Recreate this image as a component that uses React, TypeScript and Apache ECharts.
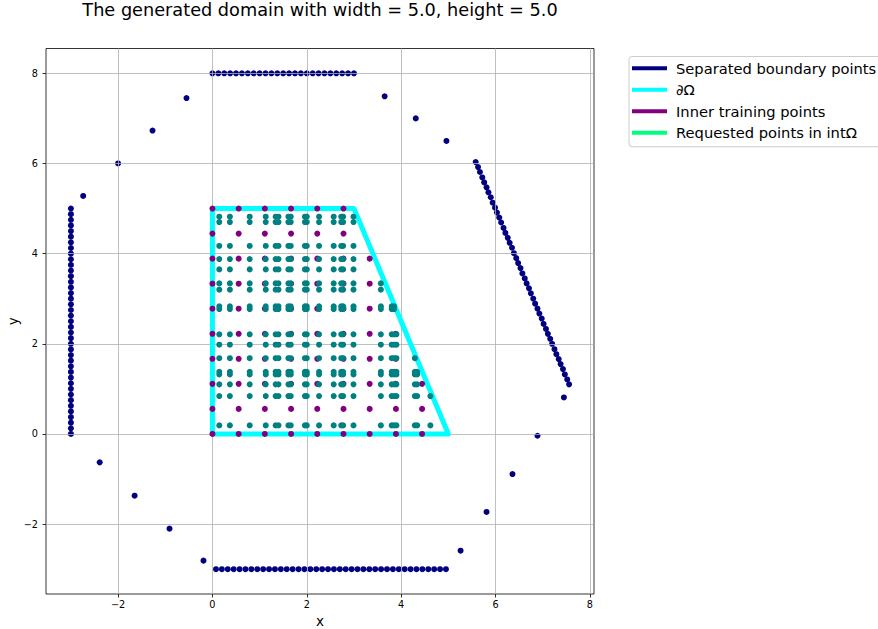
import React, { useEffect, useRef } from 'react';
import * as echarts from 'echarts';

const FONT = 'DejaVu Sans';

// Separated boundary points: left edge (x = -3)
const leftEdgeX = -3;
const leftEdgeY = [
  0, 0.125, 0.25, 0.375, 0.5, 0.625, 0.75, 0.875, 1, 1.125, 1.25, 1.375, 1.5, 1.625,
  1.75, 1.875, 2, 2.125, 2.25, 2.375, 2.5, 2.625, 2.75, 2.875, 3, 3.125, 3.25, 3.375,
  3.5, 3.625, 3.75, 3.875, 4, 4.125, 4.25, 4.375, 4.5, 4.625, 4.75, 4.875, 5,
];

// Separated boundary points: top edge (y = 8)
const topEdgeY = 8;
const topEdgeX = [
  0, 0.125, 0.25, 0.375, 0.5, 0.625, 0.75, 0.875, 1, 1.125, 1.25, 1.375, 1.5, 1.625,
  1.75, 1.875, 2, 2.125, 2.25, 2.375, 2.5, 2.625, 2.75, 2.875, 3,
];

// Separated boundary points: bottom edge (y = -3)
const bottomEdgeY = -3;
const bottomEdgeX = [
  0.075, 0.2, 0.325, 0.45, 0.575, 0.7, 0.825, 0.95, 1.075, 1.2, 1.325, 1.45, 1.575, 1.7,
  1.825, 1.95, 2.075, 2.2, 2.325, 2.45, 2.575, 2.7, 2.825, 2.95, 3.075, 3.2, 3.325, 3.45,
  3.575, 3.7, 3.825, 3.95, 4.075, 4.2, 4.325, 4.45, 4.575, 4.7, 4.825, 4.95,
];

// Separated boundary points: slanted right edge
const slantedEdgePoints: [number, number][] = [
  [5.58, 6.03], [5.63, 5.92], [5.67, 5.81], [5.72, 5.69], [5.76, 5.58], [5.81, 5.47],
  [5.85, 5.36], [5.9, 5.25], [5.94, 5.13], [5.99, 5.02], [6.03, 4.91], [6.08, 4.8],
  [6.12, 4.69], [6.17, 4.57], [6.21, 4.46], [6.26, 4.35], [6.3, 4.24], [6.35, 4.13],
  [6.39, 4.01], [6.44, 3.9], [6.48, 3.79], [6.53, 3.68], [6.57, 3.56], [6.62, 3.45],
  [6.66, 3.34], [6.71, 3.23], [6.75, 3.12], [6.8, 3.0], [6.84, 2.89], [6.89, 2.78],
  [6.93, 2.67], [6.98, 2.56], [7.02, 2.44], [7.07, 2.33], [7.11, 2.22], [7.16, 2.11],
  [7.2, 2.0], [7.25, 1.88], [7.29, 1.77], [7.34, 1.66], [7.38, 1.55], [7.43, 1.44],
  [7.47, 1.32], [7.52, 1.21], [7.56, 1.1],
];

// Separated boundary points around the four corners
const cornerPoints: [number, number][] = [
  [-2.74, 5.28], [-2.0, 6.0], [-1.27, 6.73], [-0.55, 7.45],
  [3.65, 7.49], [4.31, 7.0], [4.96, 6.5],
  [5.26, -2.59], [5.81, -1.73], [6.36, -0.89], [6.89, -0.04], [7.45, 0.81],
  [-2.39, -0.63], [-1.65, -1.37], [-0.91, -2.1], [-0.19, -2.81],
];

// Domain outline ∂Ω
const domainVertices: [number, number][] = [[0, 0], [5, 0], [3, 5], [0, 5], [0, 0]];

// Inner training points lie on this lattice inside Ω
const innerGridX = [0, 0.556, 1.111, 1.667, 2.222, 2.778, 3.333, 3.889, 4.444, 5];
const innerGridY = [0, 0.556, 1.111, 1.667, 2.222, 2.778, 3.333, 3.889, 4.444, 5];

// Requested points lie on this lattice inside Ω
const requestedX = [
  0.145, 0.37, 0.79, 1.13, 1.34, 1.4, 1.61, 1.66, 1.96, 2.0, 2.26, 2.57, 2.73, 2.77,
  2.99, 3.57, 3.8, 3.85, 3.9, 4.29, 4.34, 4.62,
];
const requestedY = [
  0.19, 0.84, 1.1, 1.32, 1.38, 1.68, 1.98, 2.21, 2.77, 2.83, 3.2, 3.34, 3.65, 3.88,
  4.17, 4.7, 4.82,
];

const xTicks = [-2, 0, 2, 4, 6, 8];
const yTicks = [-2, 0, 2, 4, 6, 8];
const xRange = [-3.528, 8.088];
const yRange = [-3.55, 8.55];

const seriesNames = [
  'Separated boundary points',
  '∂Ω',
  'Inner training points',
  'Requested points in intΩ',
];
const seriesColors = ['#000080', '#00ffff', '#800080', '#008080'];
const legendColors = ['#000080', '#00ffff', '#800080', '#00ff7f'];

// keep points strictly left of the slanted side of Ω
function insideDomain(x: number, y: number): boolean {
  const [x0, y0] = domainVertices[1];
  const [x1, y1] = domainVertices[2];
  const edgeX = x0 + ((x1 - x0) * (y - y0)) / (y1 - y0);
  return x >= 0 && y >= 0 && y <= y1 && x < edgeX - 1e-6;
}

function lattice(xs: number[], ys: number[]): [number, number][] {
  const out: [number, number][] = [];
  ys.forEach((y) => xs.forEach((x) => { if (insideDomain(x, y)) out.push([x, y]); }));
  return out;
}

const minus = (v: number) => String(v).replace('-', '\u2212');

export default function App() {
  const ref = useRef<HTMLDivElement>(null);

  useEffect(() => {
    if (!ref.current) return;
    const chart = echarts.init(ref.current, undefined, { renderer: 'svg' });

    const boundary: [number, number][] = [
      ...leftEdgeY.map((y) => [leftEdgeX, y] as [number, number]),
      ...topEdgeX.map((x) => [x, topEdgeY] as [number, number]),
      ...bottomEdgeX.map((x) => [x, bottomEdgeY] as [number, number]),
      ...slantedEdgePoints,
      ...cornerPoints,
    ];

    const gridLineStyle = { color: '#b0b0b0', width: 0.8, type: 'solid' as const };

    chart.setOption({
      animation: false,
      backgroundColor: '#ffffff',
      title: {
        text: 'The generated domain with width = 5.0, height = 5.0',
        left: 320,
        top: 1,
        textAlign: 'center',
        padding: 0,
        textStyle: { fontFamily: FONT, fontSize: 17.7, fontWeight: 'normal', color: '#000' },
      },
      grid: {
        left: 46,
        top: 48.5,
        width: 548,
        height: 545.5,
        outerBoundsMode: 'none',
        containLabel: false,
        show: true,
        borderColor: '#000',
        borderWidth: 0.8,
        backgroundColor: 'transparent',
      },
      legend: {
        orient: 'vertical',
        left: 629,
        top: 56.5,
        padding: [2.8, 8, 5, 3],
        itemWidth: 35,
        itemHeight: 4,
        itemGap: 3.5,
        icon: 'rect',
        selectedMode: false,
        backgroundColor: 'rgba(255,255,255,0.8)',
        borderColor: '#cccccc',
        borderWidth: 1,
        borderRadius: 3,
        itemStyle: { borderWidth: 0, opacity: 1 },
        textStyle: {
          fontFamily: FONT,
          fontSize: 14.7,
          color: '#000',
          lineHeight: 18,
          padding: [0, 0, 0, 4],
        },
        data: seriesNames.map((name, i) => ({
          name,
          itemStyle: { color: legendColors[i], opacity: 1 },
        })),
      },
      xAxis: {
        type: 'value',
        min: xRange[0],
        max: xRange[1],
        name: 'x',
        nameLocation: 'middle',
        nameGap: 17,
        nameTextStyle: { fontFamily: FONT, fontSize: 13.5, color: '#000' },
        axisLine: { show: false, onZero: false },
        axisTick: {
          show: true,
          length: 3.5,
          customValues: xTicks,
          lineStyle: { color: '#000', width: 0.8 },
        },
        axisLabel: {
          customValues: xTicks,
          margin: 5,
          fontFamily: FONT,
          fontSize: 9.7,
          color: '#000',
          formatter: minus,
        },
        splitLine: { show: false },
      },
      yAxis: {
        type: 'value',
        min: yRange[0],
        max: yRange[1],
        name: 'y',
        nameLocation: 'middle',
        nameGap: 26,
        nameRotate: 90,
        nameMoveOverlap: false,
        nameTextStyle: { fontFamily: FONT, fontSize: 13.5, color: '#000' },
        axisLine: { show: false, onZero: false },
        axisTick: {
          show: true,
          length: 3.5,
          customValues: yTicks,
          lineStyle: { color: '#000', width: 0.8 },
        },
        axisLabel: {
          customValues: yTicks,
          margin: 8,
          fontFamily: FONT,
          fontSize: 9.7,
          color: '#000',
          formatter: minus,
        },
        splitLine: { show: false },
      },
      series: [
        {
          name: seriesNames[0],
          type: 'scatter',
          z: 1,
          symbolSize: 6,
          itemStyle: { color: seriesColors[0], opacity: 1 },
          data: boundary,
          markLine: {
            z: 2,
            silent: true,
            symbol: ['none', 'none'],
            label: { show: false },
            lineStyle: gridLineStyle,
            emphasis: { disabled: true },
            data: [
              ...xTicks.map((v) => ({ xAxis: v })),
              ...yTicks.map((v) => ({ yAxis: v })),
            ],
          },
        },
        {
          name: seriesNames[1],
          type: 'line',
          z: 3,
          symbol: 'none',
          itemStyle: { color: seriesColors[1] },
          lineStyle: { color: seriesColors[1], width: 5, cap: 'round', join: 'round' },
          data: domainVertices,
        },
        {
          name: seriesNames[2],
          type: 'scatter',
          z: 4,
          symbolSize: 6,
          itemStyle: { color: seriesColors[2], opacity: 1 },
          data: lattice(innerGridX, innerGridY),
        },
        {
          name: seriesNames[3],
          type: 'scatter',
          z: 5,
          symbolSize: 6,
          itemStyle: { color: seriesColors[3], opacity: 1 },
          data: lattice(requestedX, requestedY),
        },
      ],
    });

    return () => chart.dispose();
  }, []);

  return (
    <div
      ref={ref}
      style={{ position: 'fixed', left: 0, top: 0, width: 878, height: 629, background: '#fff' }}
    />
  );
}
